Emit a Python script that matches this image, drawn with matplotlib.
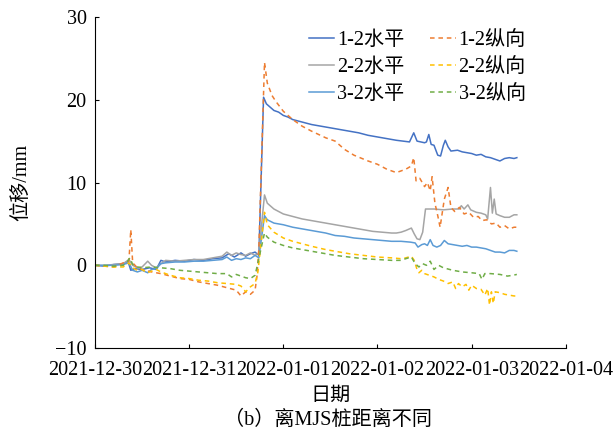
import matplotlib
matplotlib.use("Agg")
import matplotlib.pyplot as plt
import matplotlib.dates as mdates
import numpy as np
import pandas as pd

plt.rcParams['font.family'] = ['Liberation Serif', 'Noto Sans CJK SC']
plt.rcParams['axes.unicode_minus'] = True

START = pd.Timestamp("2021-12-30")

# 1-2水平
x_h12 = [0, 0.1, 0.2, 0.3, 0.35, 0.38, 0.42, 0.5, 0.58, 0.65, 0.7, 0.75, 0.85, 0.95, 1.05,
         1.15, 1.25, 1.35, 1.42, 1.48, 1.55, 1.6, 1.65, 1.7, 1.74, 1.79, 1.82, 1.85, 1.9, 1.95,
         2.0, 2.05, 2.1, 2.2, 2.3, 2.4, 2.5, 2.6, 2.7, 2.8, 2.9, 3.0, 3.1, 3.2, 3.34, 3.385,
         3.42, 3.5, 3.52, 3.545, 3.57, 3.6, 3.64, 3.67, 3.7, 3.72, 3.75, 3.78, 3.85, 3.9, 3.95,
         4.0, 4.05, 4.1, 4.15, 4.2, 4.25, 4.3, 4.35, 4.4, 4.45, 4.48]
y_h12 = [0, -0.1, 0.1, 0.2, 0.5, -0.6, -0.4, -0.5, -0.3, -0.5, 0.6, 0.4, 0.6, 0.5, 0.7,
         0.6, 0.8, 0.9, 1.4, 1.0, 1.5, 1.1, 1.4, 1.6, 1.2, 20.3, 19.5, 19.2, 18.7, 18.5,
         18.1, 17.9, 17.6, 17.3, 17.0, 16.8, 16.6, 16.4, 16.2, 16.0, 15.7, 15.5, 15.3, 15.1, 14.9, 16.0,
         15.0, 14.8, 14.9, 15.8, 14.6, 14.5, 13.3, 13.2, 14.5, 15.1, 14.3, 13.8, 13.9, 13.7, 13.6,
         13.5, 13.3, 13.4, 13.1, 13.0, 12.8, 12.6, 12.9, 13.0, 12.9, 13.0]

# 1-2纵向
x_v12 = [0, 0.1, 0.2, 0.3, 0.36, 0.38, 0.40, 0.45, 0.5, 0.6, 0.7, 0.8, 0.9, 1.0, 1.1, 1.2,
         1.3, 1.4, 1.5, 1.55, 1.6, 1.65, 1.7, 1.72, 1.74, 1.8, 1.83, 1.88, 1.92, 2.0, 2.1, 2.2,
         2.3, 2.45, 2.55, 2.65, 2.75, 2.9, 3.0, 3.1, 3.2, 3.3, 3.36, 3.385, 3.41, 3.45, 3.5,
         3.53, 3.56, 3.58, 3.61, 3.64, 3.665, 3.69, 3.71, 3.75, 3.78, 3.82, 3.87, 3.92, 3.97,
         4.02, 4.07, 4.11, 4.16, 4.21, 4.26, 4.3, 4.35, 4.4, 4.45, 4.48]
y_v12 = [0, -0.1, -0.2, 0.3, 0.5, 4.3, 0.3, -0.3, -0.5, -0.8, -1.0, -1.3, -1.6, -1.7, -2.0, -2.2,
         -2.4, -2.7, -3.0, -3.7, -3.2, -3.5, -3.0, -1.3, 2.0, 24.5, 22.0, 20.5, 19.8, 18.6, 17.6, 16.8,
         16.2, 15.4, 15.0, 14.0, 13.3, 12.6, 12.2, 11.6, 11.2, 11.6, 12.0, 13.0, 10.2, 10.5, 9.5,
         10.0, 9.0, 10.7, 7.5, 6.0, 4.6, 6.5, 8.0, 9.4, 7.0, 6.5, 7.0, 6.2, 6.4,
         5.8, 5.9, 5.4, 5.5, 5.0, 5.1, 4.6, 4.8, 4.4, 4.6, 4.6]

# 2-2水平
x_h22 = [0, 0.1, 0.2, 0.3, 0.36, 0.4, 0.45, 0.5, 0.56, 0.6, 0.65, 0.7, 0.75, 0.85, 0.95, 1.05,
         1.15, 1.25, 1.35, 1.4, 1.45, 1.5, 1.55, 1.6, 1.65, 1.7, 1.74, 1.8, 1.83, 1.9, 2.0, 2.1,
         2.2, 2.3, 2.45, 2.55, 2.65, 2.75, 2.85, 2.95, 3.05, 3.15, 3.2, 3.25, 3.3, 3.36, 3.39,
         3.42, 3.45, 3.48, 3.51, 3.6, 3.7, 3.8, 3.87, 3.89, 3.92, 3.96, 3.99, 4.05, 4.1, 4.15,
         4.17, 4.2, 4.22, 4.24, 4.26, 4.3, 4.35, 4.4, 4.45, 4.48]
y_h22 = [0, 0.0, 0.1, 0.2, 0.7, 0.0, -0.3, -0.2, 0.5, 0.0, -0.3, 0.2, 0.6, 0.5, 0.6, 0.7,
         0.7, 0.9, 1.1, 1.6, 1.2, 1.5, 1.3, 1.2, 1.5, 1.2, 1.5, 8.5, 7.5, 6.8, 6.2, 5.9,
         5.6, 5.4, 5.1, 4.9, 4.7, 4.5, 4.3, 4.1, 4.0, 3.9, 3.9, 4.0, 4.2, 4.5, 3.8,
         3.2, 3.1, 4.0, 6.8, 6.8, 6.7, 6.8, 6.8, 7.2, 6.8, 7.3, 6.7, 6.4, 6.3, 6.1,
         5.6, 9.4, 6.3, 8.0, 6.2, 6.0, 5.8, 5.8, 6.1, 6.1]

# 2-2纵向
x_v22 = [0, 0.1, 0.2, 0.3, 0.36, 0.4, 0.45, 0.5, 0.55, 0.6, 0.65, 0.7, 0.8, 0.9, 1.0, 1.1,
         1.2, 1.3, 1.4, 1.5, 1.55, 1.6, 1.65, 1.7, 1.73, 1.8, 1.83, 1.9, 2.0, 2.1, 2.2, 2.3,
         2.45, 2.55, 2.7, 2.85, 3.0, 3.15, 3.25, 3.3, 3.36, 3.39, 3.42, 3.44, 3.47, 3.5, 3.55,
         3.6, 3.65, 3.7, 3.75, 3.8, 3.83, 3.86, 3.9, 3.94, 3.97, 4.0, 4.05, 4.1, 4.14, 4.17,
         4.19, 4.21, 4.23, 4.25, 4.3, 4.35, 4.4, 4.45, 4.48]
y_v22 = [0, -0.1, -0.2, -0.2, 0.3, -0.3, -0.6, -0.5, -0.9, -0.7, -0.5, -0.8, -1.2, -1.5, -1.6, -1.8,
         -1.9, -2.1, -2.2, -2.3, -2.5, -3.2, -2.6, -2.2, -0.8, 6.4, 4.9, 4.0, 3.3, 2.9, 2.6, 2.3,
         1.9, 1.7, 1.4, 1.2, 1.0, 0.9, 0.8, 0.9, 1.1, 0.6, -0.5, -0.9, -0.6, -1.0, -1.2,
         -1.4, -1.7, -1.9, -2.2, -2.0, -2.8, -2.2, -2.6, -2.3, -3.0, -2.4, -2.8, -2.9, -3.6, -2.8,
         -4.8, -3.2, -4.6, -3.2, -3.3, -3.5, -3.6, -3.7, -3.7]

# 3-2水平
x_h32 = [0, 0.1, 0.2, 0.3, 0.36, 0.4, 0.45, 0.5, 0.56, 0.6, 0.65, 0.7, 0.75, 0.85, 0.95, 1.05,
         1.15, 1.25, 1.35, 1.4, 1.45, 1.5, 1.55, 1.6, 1.65, 1.7, 1.74, 1.8, 1.83, 1.9, 2.0, 2.1,
         2.2, 2.3, 2.45, 2.55, 2.65, 2.75, 2.85, 2.95, 3.05, 3.15, 3.25, 3.35, 3.4, 3.43, 3.47,
         3.5, 3.53, 3.56, 3.59, 3.63, 3.67, 3.71, 3.75, 3.8, 3.85, 3.9, 3.95, 4.0, 4.05, 4.1,
         4.15, 4.2, 4.25, 4.3, 4.35, 4.4, 4.45, 4.48]
y_h32 = [0, 0.0, 0.0, 0.1, 0.3, -0.6, -0.8, -0.6, -0.9, -0.5, -0.4, 0.2, 0.3, 0.4, 0.4, 0.5,
         0.5, 0.6, 0.7, 1.0, 0.6, 0.8, 0.7, 0.9, 0.8, 1.2, 0.9, 6.0, 5.5, 5.1, 4.9, 4.6,
         4.4, 4.2, 3.9, 3.6, 3.5, 3.3, 3.2, 3.1, 3.0, 2.9, 2.9, 2.8, 2.7, 2.2, 2.5,
         2.6, 2.4, 3.1, 2.4, 2.2, 2.4, 3.0, 2.6, 2.5, 2.4, 2.3, 2.4, 2.2, 2.2, 2.1,
         2.0, 1.8, 1.6, 1.6, 1.5, 1.8, 1.8, 1.7]

# 3-2纵向
x_v32 = [0, 0.1, 0.2, 0.3, 0.34, 0.37, 0.4, 0.45, 0.5, 0.6, 0.7, 0.8, 0.9, 1.0, 1.1, 1.2,
         1.3, 1.4, 1.45, 1.5, 1.55, 1.6, 1.65, 1.7, 1.72, 1.8, 1.83, 1.9, 2.0, 2.1, 2.2, 2.3,
         2.45, 2.55, 2.7, 2.85, 3.0, 3.15, 3.25, 3.3, 3.36, 3.4, 3.44, 3.48, 3.52, 3.56, 3.6,
         3.65, 3.7, 3.8, 3.9, 4.0, 4.08, 4.11, 4.14, 4.2, 4.3, 4.38, 4.44, 4.48]
y_v32 = [0, 0.0, -0.1, 0.0, 0.4, 0.9, 0.1, -0.2, -0.3, -0.2, -0.3, -0.4, -0.6, -0.7, -0.8, -0.9,
         -1.0, -1.0, -1.4, -1.1, -1.3, -1.5, -1.6, -1.2, -0.2, 3.9, 3.4, 2.8, 2.4, 2.1, 1.9, 1.7,
         1.4, 1.2, 1.0, 0.8, 0.7, 0.6, 0.6, 0.8, 1.0, 0.2, -0.2, 0.2, 0.0, 0.5, -0.5,
         0.0, -0.3, -0.6, -0.8, -0.9, -1.0, -1.7, -1.0, -1.0, -1.1, -1.3, -1.2, -1.1]

series = [
    ("1-2水平", x_h12, y_h12, "#4472C4", "-"),
    ("2-2水平", x_h22, y_h22, "#A5A5A5", "-"),
    ("3-2水平", x_h32, y_h32, "#5B9BD5", "-"),
    ("1-2纵向", x_v12, y_v12, "#ED7D31", (0, (3, 2.5))),
    ("2-2纵向", x_v22, y_v22, "#FFC000", (0, (3, 2.5))),
    ("3-2纵向", x_v32, y_v32, "#70AD47", (0, (3, 2.5))),
]

FS = 14.5

fig = plt.figure(figsize=(6.13, 4.33), dpi=100)
ax = fig.add_axes([0.155, 0.196, 0.768, 0.765])

for label, xs, ys, color, ls in series:
    dates = START + pd.to_timedelta(np.array(xs), unit="D")
    ax.plot(dates, ys, color=color, linestyle=ls, linewidth=1.1, label=label)

ax.set_xlim(START, START + pd.Timedelta(days=5))
ax.set_ylim(-10, 30)
ax.set_yticks([-10, 0, 10, 20, 30])
ax.xaxis.set_major_locator(mdates.DayLocator())
ax.xaxis.set_major_formatter(mdates.DateFormatter("%Y-%m-%d"))
ax.spines["top"].set_visible(False)
ax.spines["right"].set_visible(False)
ax.tick_params(axis="both", labelsize=FS, direction="in", length=3)
ax.tick_params(axis="x", pad=9)
ax.tick_params(axis="y", pad=6)
ax.set_xlabel("日期", fontsize=FS)
ax.set_ylabel("位移/mm", fontsize=FS)
ax.xaxis.set_label_coords(0.5, -0.117)
ax.yaxis.set_label_coords(-0.135, 0.5)

ax.legend(ncol=2, loc="upper right", bbox_to_anchor=(0.915, 0.957), frameon=False,
          fontsize=FS, handlelength=1.25, handletextpad=0.15, columnspacing=1.3,
          labelspacing=0.38, borderpad=0, borderaxespad=0)

fig.text(0.535, 0.03, "（b）离MJS桩距离不同", ha="center", va="center", fontsize=FS)

fig.savefig("out.png", dpi=100)
